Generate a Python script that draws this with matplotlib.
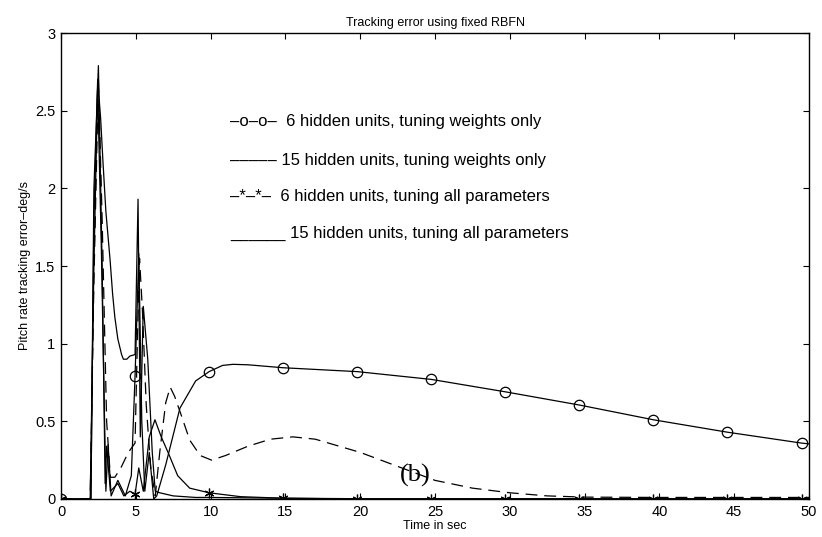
import matplotlib
matplotlib.use("Agg")
import matplotlib.pyplot as plt

# ---- data ----
t_o = [0, 1.95, 2.2, 2.45, 2.7, 3.0, 3.15, 3.35, 3.8, 4.3, 4.7, 4.95, 5.2, 5.4, 5.6, 5.9, 6.2, 6.4,
       7.0, 7.95, 9.0, 9.9, 10.8, 11.5, 12.5, 14.85, 19.8, 24.75, 29.7, 34.65, 39.6, 44.55, 49.5, 50]
v_o = [0, 0, 1.5, 2.65, 1.6, 0.05, 0.35, 0.02, 0.12, 0.02, 0.15, 0.79, 1.58, 0.5, 0.05, 0.3, 0.0, 0.02,
       0.22, 0.585, 0.76, 0.82, 0.86, 0.867, 0.864, 0.845, 0.82, 0.77, 0.69, 0.605, 0.51, 0.43, 0.36, 0.355]

t_d = [0, 1.95, 2.2, 2.5, 2.75, 3.05, 3.3, 3.6, 4.0, 4.5, 4.95, 5.1, 5.25, 5.45, 5.7, 6.0, 6.3, 6.6,
       7.0, 7.3, 7.6, 8.0, 8.6, 9.3, 10.07, 11, 12.5, 14, 15.5, 17, 20, 22.5, 25, 27.5, 30, 32.5, 35,
       40, 45, 50]
v_d = [0, 0, 1.4, 2.7, 1.8, 0.5, 0.14, 0.14, 0.2, 0.3, 0.36, 1.0, 1.55, 1.2, 0.6, 0.2, 0.02, 0.3,
       0.62, 0.72, 0.66, 0.55, 0.38, 0.28, 0.25, 0.28, 0.34, 0.385, 0.40, 0.385, 0.30, 0.21, 0.12, 0.07,
       0.04, 0.02, 0.012, 0.01, 0.01, 0.01]

t_s = [0, 2.0, 2.2, 2.5, 2.75, 2.95, 3.05, 3.3, 3.8, 4.2, 4.6, 4.95, 5.2, 5.5, 5.9, 6.28, 6.7, 7.2,
       7.8, 8.6, 9.9, 12, 14.85, 19.8, 24.75, 29.7, 34.65, 39.6, 44.55, 49.5, 50]
v_s = [0, 0, 2.0, 2.79, 1.5, 0.1, 0.34, 0.05, 0.1, 0.02, 0.05, 0.03, 0.2, 0.05, 0.4, 0.51, 0.4, 0.29,
       0.15, 0.07, 0.04, 0.015, 0.005, 0.002, 0.002, 0.002, 0.002, 0.002, 0.002, 0.002, 0.002]

t_a = [0, 2.0, 2.2, 2.45, 2.65, 2.8, 3.0, 3.28, 3.45, 3.6, 3.8, 4.05, 4.17, 4.4, 4.6, 4.95, 5.15, 5.3,
       5.5, 5.8, 6.1, 6.3, 6.6, 7.5, 9.0, 10, 15, 20, 30, 40, 50]
v_a = [0, 0, 1.8, 2.7, 2.45, 2.18, 1.85, 1.54, 1.32, 1.17, 1.03, 0.93, 0.9, 0.9, 0.92, 0.93, 1.93, 0.4,
       1.24, 0.9, 0.3, 0.05, 0.04, 0.02, 0.01, 0.01, 0.005, 0.0, 0.0, 0.0, 0.0]

mark_t = [0, 4.95, 9.9, 14.85, 19.8, 24.75, 29.7, 34.65, 39.6, 44.55, 49.5]

legend_texts = ["\u2013o\u2013o\u2013  6 hidden units, tuning weights only",
                "\u2013\u2013\u2013\u2013\u2013 15 hidden units, tuning weights only",
                "\u2013*\u2013*\u2013  6 hidden units, tuning all parameters",
                "______ 15 hidden units, tuning all parameters"]
legend_y = [2.43, 2.18, 1.945, 1.71]
xticks = [0, 5, 10, 15, 20, 25, 30, 35, 40, 45, 50]
yticks = [0, 0.5, 1, 1.5, 2, 2.5, 3]
ytick_labels = ["0", "0.5", "1", "1.5", "2", "2.5", "3"]

plt.rcParams['font.family'] = ['Liberation Sans', 'DejaVu Sans']

fig = plt.figure(figsize=(8.22, 5.37), dpi=100)
ax = fig.add_axes([61/822, 38/537, (809-61)/822, (499-33)/537])

lw = 0.9
ax.plot(t_a, v_a, color='black', lw=lw)
ax.plot(t_s, v_s, color='black', lw=lw)
ax.plot(t_d, v_d, color='black', lw=lw, dashes=(9.5, 5.5))
ax.plot(t_o, v_o, color='black', lw=lw)

mo = [t_o.index(m) for m in mark_t]
ax.plot([t_o[i] for i in mo], [v_o[i] for i in mo], ls='none', marker='o', ms=7.5,
        mfc='none', mec='black', mew=0.9)
ms_idx = [t_s.index(m) for m in mark_t]
ax.plot([t_s[i] for i in ms_idx], [v_s[i] for i in ms_idx], ls='none', marker=(6, 2, 0), ms=7,
        mec='black', mew=0.9)

ax.set_xlim(0, 50)
ax.set_ylim(0, 3)
ax.set_xticks(xticks)
ax.set_xticklabels([str(x) for x in xticks])
ax.set_yticks(yticks)
ax.set_yticklabels(ytick_labels)
ax.tick_params(direction='in', top=True, right=True, length=4.5, width=0.8, labelsize=10.5, pad=4)
for s in ax.spines.values():
    s.set_linewidth(1.0)

ax.set_title("Tracking error using fixed RBFN", fontsize=9, pad=5)
ax.set_xlabel("Time in sec", fontsize=9, labelpad=1)
ax.set_ylabel("Pitch rate tracking error\u2013deg/s", fontsize=9, labelpad=3)

for txt, y in zip(legend_texts, legend_y):
    ax.text(11.3, y, txt, fontsize=12, va='center', ha='left')

ax.text(23.7, 0.15, "(b)", fontsize=19, family=['Liberation Serif', 'DejaVu Serif'],
        ha='center', va='center')

fig.savefig("out.png", dpi=100)
